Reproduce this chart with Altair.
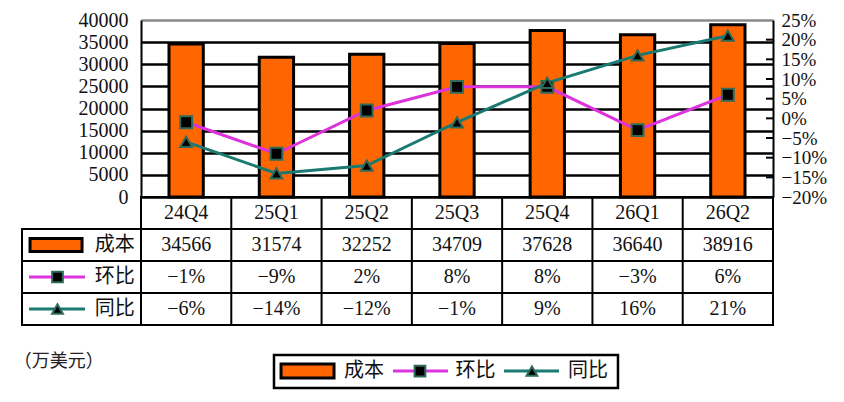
import altair as alt
import pandas as pd

# ---- data ----
cats = ["24Q4", "25Q1", "25Q2", "25Q3", "25Q4", "26Q1", "26Q2"]
cost = [34566, 31574, 32252, 34709, 37628, 36640, 38916]
qoq = [-1, -9, 2, 8, 8, -3, 6]      # 环比 (%)
yoy = [-6, -14, -12, -1, 9, 16, 21]  # 同比 (%)
cost_ticks = [0, 5000, 10000, 15000, 20000, 25000, 30000, 35000, 40000]
pct_ticks = [-20, -15, -10, -5, 0, 5, 10, 15, 20, 25]
series_names = ["成本", "环比", "同比"]
unit_label = "（万美元）"

# ---- styling ----
W = 632
H_TOP = 177
H_TAB = 128
FONT_NUM = "Liberation Serif"
FONT_CJK = "Noto Sans CJK SC"
ORANGE = "#FF6600"
MAG = "#DD33DD"
TEAL = "#1A7A72"
MK = "#2F6B5C"
TXT = "#111111"
LEFT = -1.318  # left edge of the table (in column units)


def pct_label(v):
    return f"{v}%".replace("-", "\u2212")


color_scale = alt.Scale(domain=["环比", "同比"], range=[MAG, TEAL])
shape_scale = alt.Scale(domain=["环比", "同比"], range=["square", "triangle-up"])

# ---------------- top chart ----------------
bar_df = pd.DataFrame({"cat": cats, "cost": cost})
line_df = pd.DataFrame({
    "cat": cats * 2,
    "series": ["环比"] * len(cats) + ["同比"] * len(cats),
    "pct": qoq + yoy,
})
tick_df = pd.DataFrame({"pct": pct_ticks[1:-1]})

xband = alt.X("cat:N", sort=cats,
              scale=alt.Scale(domain=cats, paddingInner=0, paddingOuter=0),
              axis=None)

bars = alt.Chart(bar_df).mark_bar(
    fill=ORANGE, stroke="black", strokeWidth=3,
    width=alt.RelativeBandSize(0.38)
).encode(
    x=xband,
    y=alt.Y("cost:Q", scale=alt.Scale(domain=[0, 40000], nice=False),
            axis=alt.Axis(values=cost_ticks, title=None, orient="left",
                          grid=True,
                          gridColor={"condition": {"test": "datum.value === 40000",
                                                   "value": "#8a8a8a"},
                                     "value": "black"},
                          gridWidth=2.5, domainColor="black", domainWidth=2,
                          ticks=False, labelPadding=13, labelFont=FONT_NUM,
                          labelFontSize=20, labelColor=TXT, format="d",
                          labelOverlap=False)),
)

ypct = alt.Y("pct:Q", scale=alt.Scale(domain=[-20, 25], nice=False, zero=False),
             axis=alt.Axis(values=pct_ticks, title=None, orient="right",
                           labelExpr="format(datum.value / 100, '.0%')",
                           domainColor="black", domainWidth=2, ticks=False,
                           grid=False, labelPadding=8, labelFont=FONT_NUM,
                           labelFontSize=19, labelColor=TXT,
                           labelOverlap=False))

lines = alt.Chart(line_df).mark_line(strokeWidth=3).encode(
    x=xband, y=ypct,
    color=alt.Color("series:N", scale=color_scale, legend=None),
)
points = alt.Chart(line_df).mark_point(
    filled=True, fill="black", stroke=MK, strokeWidth=2, size=140, opacity=1
).encode(
    x=xband, y=ypct,
    shape=alt.Shape("series:N", scale=shape_scale, legend=None),
)
rticks = alt.Chart(tick_df).mark_rule(color="black", strokeWidth=2).encode(
    y=ypct, x=alt.value(W - 7), x2=alt.value(W)
)

top = alt.layer(bars, alt.layer(rticks, lines, points)).resolve_scale(
    y="independent"
).properties(width=W, height=H_TOP)

# ---------------- table + legend ----------------
xq = alt.Scale(domain=[0, 7], nice=False, zero=False)
yq = alt.Scale(domain=[0, 4], nice=False, zero=False, reverse=True)

hrule_df = pd.DataFrame(
    [{"x": 0, "x2": 7, "y": 0}] + [{"x": LEFT, "x2": 7, "y": r} for r in range(1, 5)]
)
vrule_df = pd.DataFrame(
    [{"x": c, "y": 0, "y2": 4} for c in range(8)] + [{"x": LEFT, "y": 1, "y2": 4}]
)

cell_rows = []
for i, c in enumerate(cats):
    cell_rows.append({"x": i + 0.5, "y": 0.5, "label": c})
    cell_rows.append({"x": i + 0.5, "y": 1.5, "label": str(cost[i])})
    cell_rows.append({"x": i + 0.5, "y": 2.5, "label": pct_label(qoq[i])})
    cell_rows.append({"x": i + 0.5, "y": 3.5, "label": pct_label(yoy[i])})
cell_df = pd.DataFrame(cell_rows)

cjk_rows = [{"x": -0.29, "y": 1.5 + k, "label": n} for k, n in enumerate(series_names)]
cjk_rows += [
    {"x": 2.47, "y": 5.44, "label": series_names[0]},
    {"x": 3.705, "y": 5.44, "label": series_names[1]},
    {"x": 4.95, "y": 5.44, "label": series_names[2]},
]
cjk_df = pd.DataFrame(cjk_rows)

box_df = pd.DataFrame([{"x": 1.473, "x2": 5.283, "y": 4.94, "y2": 5.97}])
keyrect_df = pd.DataFrame([
    {"x": -1.229, "x2": -0.653, "y": 1.3, "y2": 1.7},
    {"x": 1.551, "x2": 2.138, "y": 5.22, "y2": 5.66},
])
keyline_df = pd.DataFrame([
    {"x": -1.24, "x2": -0.62, "y": 2.5, "series": "环比"},
    {"x": -1.24, "x2": -0.62, "y": 3.5, "series": "同比"},
    {"x": 2.791, "x2": 3.40, "y": 5.44, "series": "环比"},
    {"x": 4.02, "x2": 4.63, "y": 5.44, "series": "同比"},
])
keypt_df = pd.DataFrame([
    {"x": -0.925, "y": 2.5, "series": "环比"},
    {"x": -0.925, "y": 3.5, "series": "同比"},
    {"x": 3.09, "y": 5.44, "series": "环比"},
    {"x": 4.33, "y": 5.44, "series": "同比"},
])
unit_df = pd.DataFrame([{"x": -1.41, "y": 5.16, "label": unit_label}])

X = lambda f="x": alt.X(f"{f}:Q", scale=xq, axis=None)
Y = lambda f="y": alt.Y(f"{f}:Q", scale=yq, axis=None)

hrules = alt.Chart(hrule_df).mark_rule(color="black", strokeWidth=2, strokeCap="square").encode(
    x=X(), x2="x2:Q", y=Y())
vrules = alt.Chart(vrule_df).mark_rule(color="black", strokeWidth=2, strokeCap="square").encode(
    x=X(), y=Y(), y2="y2:Q")
cells = alt.Chart(cell_df).mark_text(
    font=FONT_NUM, fontSize=20, color=TXT, align="center", baseline="middle"
).encode(x=X(), y=Y(), text="label:N")
cjk = alt.Chart(cjk_df).mark_text(
    font=FONT_CJK, fontSize=20, color=TXT, align="center", baseline="middle"
).encode(x=X(), y=Y(), text="label:N")
box = alt.Chart(box_df).mark_rect(fill="white", stroke="black", strokeWidth=2.5).encode(
    x=X(), x2="x2:Q", y=Y(), y2="y2:Q")
keyrect = alt.Chart(keyrect_df).mark_rect(fill=ORANGE, stroke="black", strokeWidth=3).encode(
    x=X(), x2="x2:Q", y=Y(), y2="y2:Q")
keyline = alt.Chart(keyline_df).mark_rule(strokeWidth=3).encode(
    x=X(), x2="x2:Q", y=Y(),
    color=alt.Color("series:N", scale=color_scale, legend=None))
keypt = alt.Chart(keypt_df).mark_point(
    filled=True, fill="black", stroke=MK, strokeWidth=2, size=115, opacity=1
).encode(x=X(), y=Y(), shape=alt.Shape("series:N", scale=shape_scale, legend=None))
unit = alt.Chart(unit_df).mark_text(
    font=FONT_CJK, fontSize=18, color="#222222", align="left", baseline="middle"
).encode(x=X(), y=Y(), text="label:N")

table = alt.layer(
    box, hrules, vrules, cells, cjk, keyrect, keyline, keypt, unit
).properties(width=W, height=H_TAB)

chart = alt.vconcat(top, table, spacing=0, bounds="flush").properties(
    padding={"left": 5, "top": 2, "right": 5, "bottom": 2},
    background="white",
).configure_view(strokeWidth=0)

chart.save("out.html", embed_options={"renderer": "svg", "actions": False})
